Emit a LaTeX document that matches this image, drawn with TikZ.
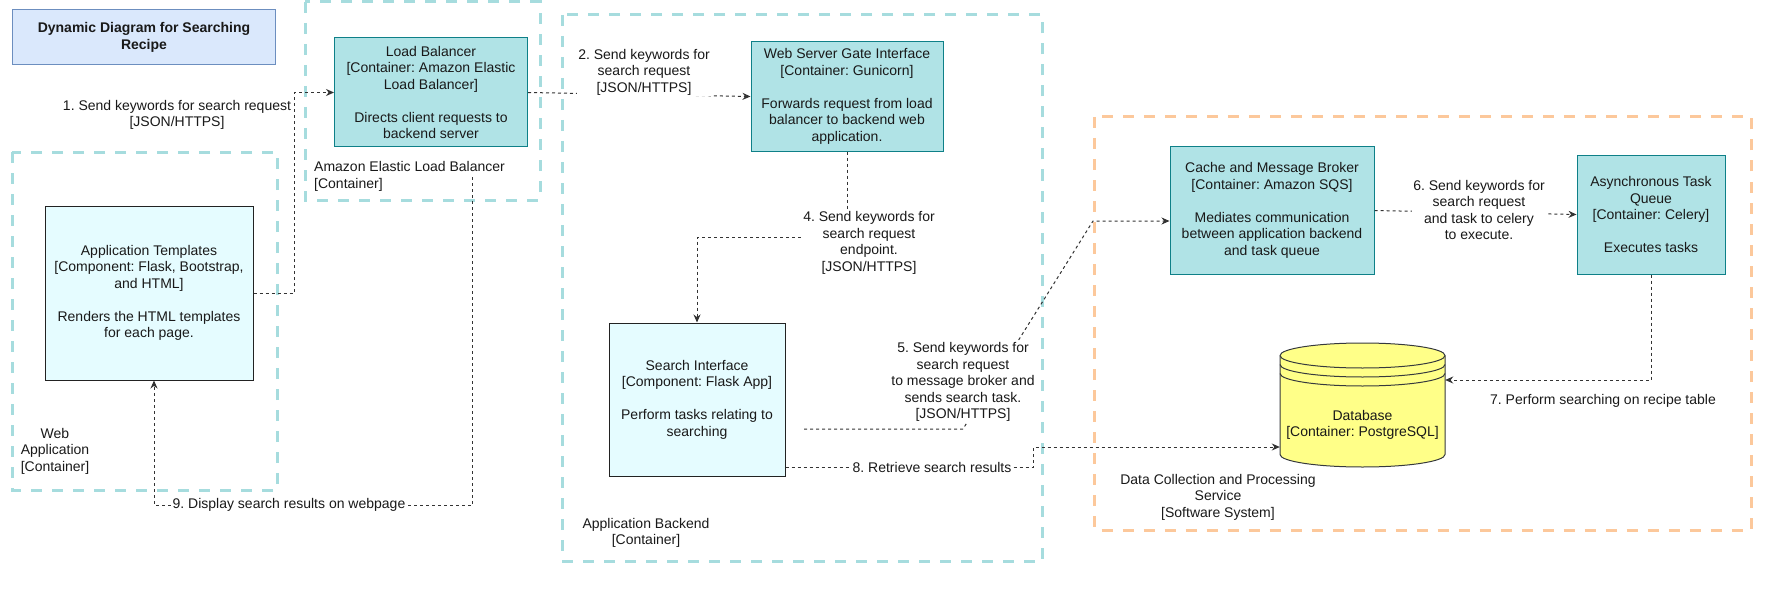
\documentclass[tikz,border=0pt]{standalone}
\usepackage{fontspec}
\setmainfont{Liberation Sans}
\usepackage{xcolor}
\usetikzlibrary{arrows.meta}
\definecolor{boxfill}{HTML}{B0E3E6}
\definecolor{boxline}{HTML}{0E8088}
\definecolor{compfill}{HTML}{E5FCFF}
\definecolor{compline}{HTML}{222222}
\definecolor{titlefill}{HTML}{DAE8FC}
\definecolor{titleline}{HTML}{6C8EBF}
\definecolor{dbfill}{HTML}{FFFF88}
\definecolor{dbline}{HTML}{36393D}
\definecolor{contteal}{RGB}{166,220,222}
\definecolor{contorange}{RGB}{252,200,155}
\definecolor{flowline}{HTML}{333333}
\frenchspacing

\begin{document}
\begin{tikzpicture}[x=1pt,y=-1pt,
    txt/.style={font=\fontsize{14}{16.5}\selectfont, align=center, inner sep=1pt, text=black!90},
    cont/.style={dash pattern=on 11pt off 10pt, line width=3pt},
    box/.style={txt, draw=boxline, fill=boxfill, line width=1pt},
    comp/.style={txt, draw=compline, fill=compfill, line width=1pt},
    flow/.style={draw=flowline, line width=1pt, dash pattern=on 3pt off 3pt, -{Stealth[length=8pt,width=7pt]}},
    lbl/.style={txt, fill=white}]

        \useasboundingbox (0,0) rectangle (1769,591);

        % containers
        \draw[cont, draw=contteal] (305,2) rectangle (540,200);
        \draw[cont, draw=contteal] (12,152) rectangle (277,490);
        \draw[cont, draw=contteal] (562,15) rectangle (1042.5,561);
        \draw[cont, draw=contorange] (1094.5,117) rectangle (1751,530);

        \node[txt, font=\fontsize{14}{16.5}\selectfont\bfseries, draw=titleline, fill=titlefill, line width=1pt, minimum width=263, minimum height=55] (title) at (144,37.5) {Dynamic Diagram for Searching\\Recipe};

        \node[box, minimum width=193, minimum height=109] (lb) at (431,92.5) {Load Balancer\\{}[Container: Amazon Elastic\\Load Balancer]\\[16.5pt]Directs client requests to\\backend server};
        \node[box, minimum width=192, minimum height=109] (wsgi) at (847,96.5) {Web Server Gate Interface\\{}[Container: Gunicorn]\\[16.5pt]Forwards request from load\\balancer to backend web\\application.};
        \node[comp, minimum width=208, minimum height=174] (tmpl) at (149,293) {Application Templates\\{}[Component: Flask, Bootstrap,\\and HTML]\\[16.5pt]Renders the HTML templates\\for each page.};
        \node[comp, minimum width=176, minimum height=153] (search) at (697,399.5) {Search Interface\\{}[Component: Flask App]\\[16.5pt]Perform tasks relating to\\searching};
        \node[box, minimum width=204, minimum height=127] (cache) at (1272,210.5) {Cache and Message Broker\\{}[Container: Amazon SQS]\\[16.5pt]Mediates communication\\between application backend\\and task queue};
        \node[box, minimum width=148, minimum height=119] (async) at (1651,214.5) {Asynchronous Task\\Queue\\{}[Container: Celery]\\[16.5pt]Executes tasks};

        % database
        \node[minimum width=165, minimum height=124, inner sep=0pt] (db) at (1362.5,405) {};
        \filldraw[fill=dbfill, draw=dbline, line width=1pt] (1280,355.5) arc[start angle=180, end angle=360, x radius=82.5, y radius=12.5] -- (1445,454.5) arc[start angle=0, end angle=180, x radius=82.5, y radius=12.5] -- cycle;
        \draw[dbline, line width=1pt] (1280,355.5) arc[start angle=180, end angle=0, x radius=82.5, y radius=12.5];
        \draw[dbline, line width=1pt] (1280,364.5) arc[start angle=180, end angle=0, x radius=82.5, y radius=12.5];
        \draw[dbline, line width=1pt] (1280,373.5) arc[start angle=180, end angle=0, x radius=82.5, y radius=12.5];
        \node[txt] (dbtext) at (1362.5,425) {Database\\{}[Container: PostgreSQL]};

        % container labels
        \node[txt, anchor=west, align=left] (elbl) at (313,176.5) {Amazon Elastic Load Balancer\\{}[Container]};
        \node[txt] (webl) at (55,451) {Web\\Application\\{}[Container]};
        \node[txt] (backl) at (646,533) {Application Backend\\{}[Container]};
        \node[txt] (datal) at (1218,497) {Data Collection and Processing\\Service\\{}[Software System]};

        % connectors
        \coordinate (c4) at (697,237);
        \coordinate (c5) at (804,429);
        \coordinate (c9) at (472.5,177);
        \draw[flow] (tmpl.east) -- ++(41,0) |- (lb.west);
        \draw[flow] (lb.east) -- (wsgi.west);
        \draw[flow] (wsgi.south) |- (c4) -- (search.north);
        \draw[flow] (c5) -- (963,429) -- (1093,221) -- ([yshift=-10.5pt]cache.west);
        \draw[flow] (cache.east) -- (async.west);
        \draw[flow] (async.south) |- ([yshift=25pt]db.east);
        \draw[flow] ([yshift=-67.5pt]search.east) -- ++(248,0) |- ([yshift=-42pt]db.west);
        \draw[flow] (c9) -- ++(0,328) -| ([xshift=5pt]tmpl.south);

        \node[txt] (l1) at (177,115) {1. Send keywords for search request\\{}[JSON/HTTPS]};
        \node[lbl] (l2) at (644,72) {2. Send keywords for\\search request\\{}[JSON/HTTPS]};
        \node[lbl] (l4) at (869,243) {4. Send keywords for\\search request\\endpoint.\\{}[JSON/HTTPS]};
        \node[lbl] (l5) at (963,382) {5. Send keywords for\\search request\\to message broker and\\sends search task.\\{}[JSON/HTTPS]};
        \node[lbl] (l6) at (1479,210) {6. Send keywords for\\search request\\and task to celery\\to execute.};
        \node[txt] (l7) at (1603,401) {7. Perform searching on recipe table};
        \node[lbl] (l8) at (932,467) {8. Retrieve search results};
        \node[lbl] (l9) at (289,505) {9. Display search results on webpage};

\end{tikzpicture}
\end{document}
